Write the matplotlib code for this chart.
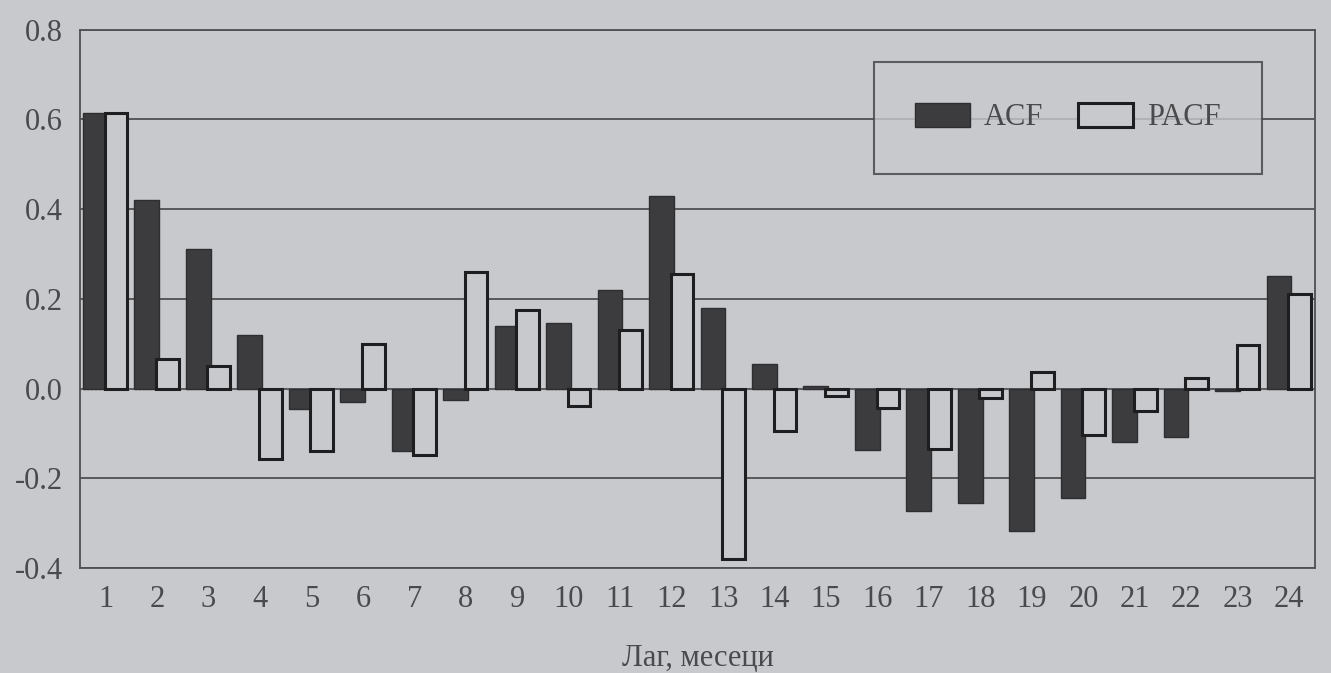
import numpy as np
import matplotlib.pyplot as plt

# lag, months
lags = np.arange(1, 25)

acf = [0.615, 0.42, 0.31, 0.12, -0.045, -0.03, -0.14, -0.025, 0.14, 0.145, 0.22, 0.43,
       0.18, 0.055, 0.005, -0.138, -0.274, -0.256, -0.317, -0.244, -0.12, -0.107, -0.005, 0.25]
pacf = [0.615, 0.065, 0.05, -0.157, -0.14, 0.10, -0.148, 0.26, 0.175, -0.038, 0.13, 0.256,
        -0.38, -0.095, -0.017, -0.043, -0.134, -0.02, 0.037, -0.103, -0.05, 0.024, 0.098, 0.21]

yticks = [-0.4, -0.2, 0.0, 0.2, 0.4, 0.6, 0.8]

bg = '#c8c9cd'
ink = '#4a4a4c'

plt.rcParams['font.family'] = ['Liberation Serif', 'DejaVu Serif']

fig = plt.figure(figsize=(13.31, 6.73), dpi=100, facecolor=bg)
ax = fig.add_axes([0.06, 0.156, 0.928, 0.8])
ax.set_facecolor(bg)

ax.bar(lags - 0.2, acf, width=0.48, color='#3c3c3e', edgecolor='#2e2e30', lw=1, label='ACF', zorder=3)
ax.bar(lags + 0.2, pacf, width=0.44, color=bg, edgecolor='#1e1e20', lw=2.2, label='PACF', zorder=4)

ax.axhline(0, color='#6a6a6c', lw=1, ls=':', zorder=2)

ax.set_xlim(0.5, 24.5)
ax.set_ylim(-0.4, 0.8)
ax.set_yticks(yticks)
ax.set_yticklabels(['%.1f' % v for v in yticks])
ax.yaxis.grid(True, color='#505052', lw=1.3)
ax.set_axisbelow(True)
ax.set_xticks(lags)
ax.set_xticklabels([str(l) for l in lags])
ax.tick_params(axis='both', length=0, labelsize=22, colors=ink, pad=12)
for s in ax.spines.values():
    s.set_color('#505052')
    s.set_linewidth(1.3)

ax.set_xlabel('Лаг, месеци', fontsize=22, color=ink, labelpad=22)

leg = ax.legend(loc='upper right', bbox_to_anchor=(0.957, 0.94), ncol=2, fontsize=22,
                frameon=True, fancybox=False, edgecolor='#404042', facecolor=bg,
                handlelength=1.8, handleheight=0.8, handletextpad=0.45, columnspacing=1.15,
                borderpad=1.35, borderaxespad=0)
leg.get_frame().set_linewidth(1.5)
for t in leg.get_texts():
    t.set_color(ink)

fig.savefig('out.png', dpi=100, facecolor=bg)
